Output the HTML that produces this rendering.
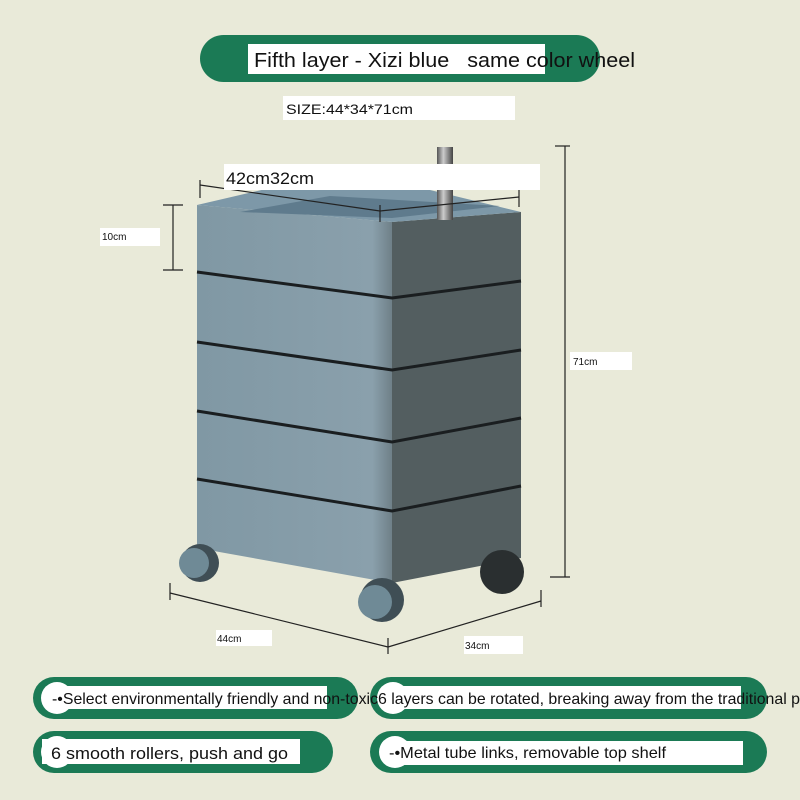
<!DOCTYPE html>
<html><head><meta charset="utf-8"><style>
html,body{margin:0;padding:0;background:#e9ead9;}
svg{display:block;}
text{font-family:"Liberation Sans",sans-serif;fill:#111;white-space:pre;}
</style></head><body>
<svg width="800" height="800" viewBox="0 0 800 800" xmlns="http://www.w3.org/2000/svg">
<defs>
<linearGradient id="pole" x1="0" x2="1"><stop offset="0" stop-color="#555"/><stop offset=".4" stop-color="#ccc"/><stop offset="1" stop-color="#444"/></linearGradient>
<linearGradient id="lf" x1="0" x2="1"><stop offset="0" stop-color="#8098a4"/><stop offset=".9" stop-color="#8aa0ac"/><stop offset="1" stop-color="#6f8088"/></linearGradient>
</defs>
<rect width="800" height="800" fill="#e9ead9"/>
<!-- title -->
<rect x="200" y="35" width="400" height="47" rx="23.5" fill="#1b7a55"/>
<rect x="248" y="44" width="297" height="30" fill="#fff"/>
<text x="254" y="67" font-size="20" textLength="381" lengthAdjust="spacingAndGlyphs" xml:space="preserve">Fifth layer - Xizi blue   same color wheel</text>
<rect x="283" y="96" width="232" height="24" fill="#fff"/>
<text x="286" y="114" font-size="14" textLength="127" lengthAdjust="spacingAndGlyphs">SIZE:44*34*71cm</text>
<!-- cabinet -->
<polygon points="197,205 392,222 392,583 197,548" fill="url(#lf)"/>
<polygon points="392,222 521,212 521,558 392,583" fill="#535e60"/>
<polygon points="197,205 270,188 430,190 521,212 392,222" fill="#7d98a8"/>
<polygon points="240,212 330,196 500,206 392,218" fill="#5f7b8d"/>
<g fill="none" stroke="#1a1e20" stroke-width="3">
<polyline points="197,272 392,298 521,281"/>
<polyline points="197,342 392,370 521,350"/>
<polyline points="197,411 392,442 521,418"/>
<polyline points="197,479 392,511 521,486"/>
</g>
<rect x="437" y="147" width="16" height="73" fill="url(#pole)"/>
<!-- wheels -->
<circle cx="200" cy="563" r="19" fill="#3f4e55"/><circle cx="194" cy="563" r="15" fill="#6f8a96"/>
<circle cx="382" cy="600" r="22" fill="#3f4e55"/><circle cx="375" cy="602" r="17" fill="#6f8a96"/>
<circle cx="502" cy="572" r="22" fill="#2a2f30"/>
<!-- dimension lines -->
<g stroke="#222" stroke-width="1.2" fill="none">
<line x1="200" y1="185" x2="380" y2="211"/><line x1="380" y1="211" x2="519" y2="197"/>
<line x1="200" y1="180" x2="200" y2="198"/><line x1="380" y1="205" x2="380" y2="222"/><line x1="519" y1="190" x2="519" y2="207"/>
<line x1="173" y1="205" x2="173" y2="270"/><line x1="163" y1="205" x2="183" y2="205"/><line x1="163" y1="270" x2="183" y2="270"/>
<line x1="565" y1="146" x2="565" y2="577"/><line x1="555" y1="146" x2="570" y2="146"/><line x1="550" y1="577" x2="570" y2="577"/>
<line x1="170" y1="593" x2="388" y2="647"/><line x1="388" y1="647" x2="541" y2="601"/>
<line x1="170" y1="583" x2="170" y2="600"/><line x1="388" y1="638" x2="388" y2="654"/><line x1="541" y1="590" x2="541" y2="607"/>
</g>
<rect x="224" y="164" width="316" height="26" fill="#fff"/>
<text x="226" y="184" font-size="17" textLength="88" lengthAdjust="spacingAndGlyphs">42cm32cm</text>
<rect x="100" y="228" width="60" height="18" fill="#fff"/>
<text x="102" y="240" font-size="10">10cm</text>
<rect x="570" y="352" width="62" height="18" fill="#fff"/>
<text x="573" y="365" font-size="10">71cm</text>
<rect x="216" y="630" width="56" height="16" fill="#fff"/>
<text x="217" y="642" font-size="10">44cm</text>
<rect x="464" y="636" width="59" height="18" fill="#fff"/>
<text x="465" y="649" font-size="10">34cm</text>
<!-- bottom pills -->
<rect x="33" y="677" width="325" height="42" rx="21" fill="#1b7a55"/>
<circle cx="57" cy="698" r="16" fill="#fff"/>
<rect x="60" y="686" width="267" height="23" fill="#fff"/>
<rect x="370" y="677" width="397" height="42" rx="21" fill="#1b7a55"/>
<circle cx="393" cy="698" r="16" fill="#fff"/>
<rect x="385" y="686" width="356" height="23" fill="#fff"/>
<text x="52" y="704" font-size="16" textLength="748" lengthAdjust="spacingAndGlyphs">-•Select environmentally friendly and non-toxic6 layers can be rotated, breaking away from the traditional p</text>
<rect x="33" y="731" width="300" height="42" rx="21" fill="#1b7a55"/>
<circle cx="57" cy="752" r="16" fill="#fff"/>
<rect x="42" y="739" width="258" height="25" fill="#fff"/>
<text x="51" y="759" font-size="17" textLength="237" lengthAdjust="spacingAndGlyphs">6 smooth rollers, push and go</text>
<rect x="370" y="731" width="397" height="42" rx="21" fill="#1b7a55"/>
<circle cx="395" cy="752" r="16" fill="#fff"/>
<rect x="400" y="741" width="343" height="24" fill="#fff"/>
<text x="389" y="758" font-size="16" textLength="277" lengthAdjust="spacingAndGlyphs">-•Metal tube links, removable top shelf</text>
</svg>
</body></html>
